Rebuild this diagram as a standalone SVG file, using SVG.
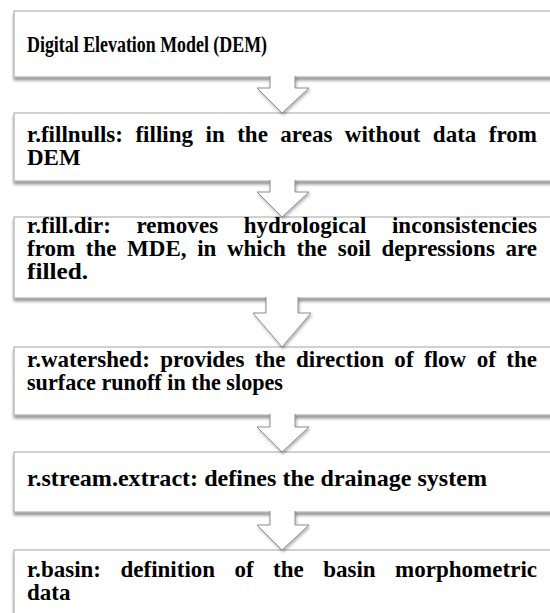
<svg xmlns="http://www.w3.org/2000/svg" width="550" height="613" viewBox="0 0 550 613">
<style>
.box{fill:#fff;stroke:#a3a3a3;stroke-width:1;filter:url(#sh)}
.arr{fill:#fff;stroke:#8c8c8c;stroke-width:1;filter:url(#sh2)}
text{font-family:"Liberation Serif","Times New Roman",serif;font-weight:bold;font-size:23px;fill:#000}
</style>
<defs>
<filter id="sh" x="-5%" y="-20%" width="110%" height="160%">
<feDropShadow dx="0" dy="3" stdDeviation="1.6" flood-color="#000" flood-opacity="0.4"/>
</filter>
<filter id="sh2" x="-30%" y="-30%" width="160%" height="160%">
<feDropShadow dx="1" dy="2" stdDeviation="1.5" flood-color="#000" flood-opacity="0.3"/>
</filter>
</defs>
<g id="n1">
<rect class="box" x="14" y="11" width="560" height="66"/>
<text x="27" y="52" textLength="240" lengthAdjust="spacingAndGlyphs">Digital Elevation Model (DEM)</text>
</g>
<g id="n2">
<rect class="box" x="14" y="113" width="560" height="68"/>
<text x="27" y="142" textLength="510" lengthAdjust="spacing" word-spacing="6.6">r.fillnulls: filling in the areas without data from</text>
<text x="27" y="165">DEM</text>
</g>
<g id="n3">
<rect class="box" x="14" y="217" width="560" height="81"/>
<text x="27" y="233" textLength="510" lengthAdjust="spacing" word-spacing="19.7">r.fill.dir: removes hydrological inconsistencies</text>
<text x="27" y="256" textLength="510" lengthAdjust="spacing" word-spacing="4.9">from the MDE, in which the soil depressions are</text>
<text x="27" y="279" textLength="61" lengthAdjust="spacingAndGlyphs">filled.</text>
</g>
<g id="n4">
<rect class="box" x="14" y="347" width="560" height="68"/>
<text x="27" y="367" textLength="510" lengthAdjust="spacing" word-spacing="4.6">r.watershed: provides the direction of flow of the</text>
<text x="27" y="390" textLength="256" lengthAdjust="spacingAndGlyphs">surface runoff in the slopes</text>
</g>
<g id="n5">
<rect class="box" x="14" y="452" width="560" height="60"/>
<text x="27" y="486" textLength="460" lengthAdjust="spacingAndGlyphs">r.stream.extract: defines the drainage system</text>
</g>
<g id="n6">
<rect class="box" x="14" y="550" width="560" height="100"/>
<text x="27" y="577" textLength="510" lengthAdjust="spacing" word-spacing="13.6">r.basin: definition of the basin morphometric</text>
<text x="27" y="600">data</text>
</g>
<g id="connectors">
<path class="arr" d="M270,76 V88 H257 L282,113 L309,88 H295 V76"/>
<path class="arr" d="M270,180 V192 H257 L282,217 L309,192 H295 V180"/>
<path class="arr" d="M266,297 V313 H253 L282,347 L311,313 H298 V297"/>
<path class="arr" d="M270,414 V427 H257 L282,452 L309,427 H295 V414"/>
<path class="arr" d="M270,511 V525 H257 L282,550 L309,525 H295 V511"/>
</g>
</svg>
